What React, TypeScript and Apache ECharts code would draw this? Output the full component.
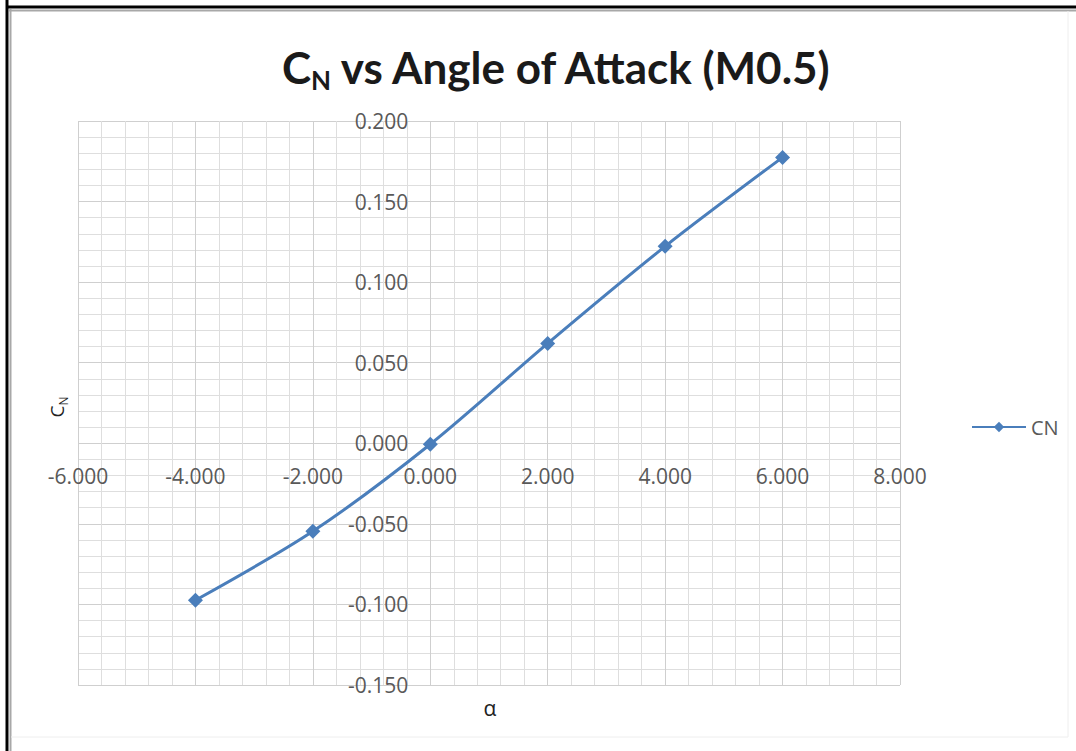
import React, { useEffect, useRef } from "react";
import * as echarts from "echarts";

const alpha = [-4, -2, 0, 2, 4, 6];
const cn = [-0.0974, -0.0546, -0.0006, 0.062, 0.1222, 0.1774];
const seriesName = "CN";
const xTicks = { min: -6, max: 8, interval: 2 };
const yTicks = { min: -0.15, max: 0.2, interval: 0.05 };

const W = 1076;
const H = 751;
const gridBox = { left: 78, right: 176, top: 121, bottom: 66 };

export default function App() {
  const ref = useRef<HTMLDivElement>(null);
  useEffect(() => {
    if (!ref.current) return;
    const chart = echarts.init(ref.current, undefined, { renderer: "svg" });
    const labelStyle = {
      color: "#595959",
      fontFamily: "Open Sans",
      fontSize: 21,
    };
    const plotW = W - gridBox.left - gridBox.right;
    const plotH = H - gridBox.top - gridBox.bottom;
    // axes cross at zero: shift axes inward from the grid edges
    const yAxisOffset = -((0 - xTicks.min) / (xTicks.max - xTicks.min)) * plotW;
    const xAxisOffset = -((0 - yTicks.min) / (yTicks.max - yTicks.min)) * plotH;
    const data = alpha.map((a, i) => [a, cn[i]]);
    chart.setOption({
      animation: false,
      backgroundColor: "#ffffff",
      title: {
        text: "{a|C}{b|N}{a| vs Angle of Attack (M0.5)}",
        left: 277,
        top: 36,
        textStyle: {
          rich: {
            a: { fontFamily: "Lato", fontWeight: "bold", fontSize: 44, color: "#1a1a1a", lineHeight: 52 },
            b: { fontFamily: "Lato", fontWeight: "bold", fontSize: 26, color: "#1a1a1a", lineHeight: 34, verticalAlign: "bottom" },
          },
        },
      },
      legend: {
        data: [seriesName],
        left: 966,
        top: 412,
        itemWidth: 54,
        itemHeight: 13,
        itemGap: 4,
        textStyle: { ...labelStyle, fontSize: 20, padding: [0, 0, 0, 0] },
      },
      grid: { ...gridBox, outerBoundsMode: "none", containLabel: false },
      xAxis: {
        type: "value",
        position: "bottom",
        offset: xAxisOffset,
        min: xTicks.min,
        max: xTicks.max,
        interval: xTicks.interval,
        axisLine: { show: false, onZero: false },
        axisTick: { show: false },
        axisLabel: {
          ...labelStyle,
          margin: 22,
          formatter: (v: number) => v.toFixed(3),
        },
        splitLine: { show: true, lineStyle: { color: "#cfcfcf", width: 1 } },
        minorTick: { show: false, splitNumber: 5 },
        minorSplitLine: { show: true, lineStyle: { color: "#dedede", width: 1 } },
      },
      yAxis: {
        type: "value",
        position: "left",
        offset: yAxisOffset,
        min: yTicks.min,
        max: yTicks.max,
        interval: yTicks.interval,
        axisLine: { show: false, onZero: false },
        axisTick: { show: false },
        axisLabel: {
          ...labelStyle,
          margin: 22,
          formatter: (v: number) => v.toFixed(3),
        },
        splitLine: { show: true, lineStyle: { color: "#cfcfcf", width: 1 } },
        minorTick: { show: false, splitNumber: 5 },
        minorSplitLine: { show: true, lineStyle: { color: "#dedede", width: 1 } },
      },
      series: [
        {
          name: seriesName,
          type: "line",
          data,
          smooth: 0.3,
          symbol: "diamond",
          symbolSize: 15,
          lineStyle: { color: "#4a7ebb", width: 3 },
          itemStyle: { color: "#4a7ebb" },
        },
      ],
      graphic: [
        { type: "line", shape: { x1: 7, y1: 0, x2: 7, y2: 751 }, style: { stroke: "#000", lineWidth: 3 } },
        { type: "line", shape: { x1: 6, y1: 7, x2: 1076, y2: 7 }, style: { stroke: "#000", lineWidth: 3 } },
        { type: "line", shape: { x1: 10.5, y1: 9, x2: 10.5, y2: 751 }, style: { stroke: "#a8a8a8", lineWidth: 2 } },
        { type: "line", shape: { x1: 9, y1: 10.5, x2: 1076, y2: 10.5 }, style: { stroke: "#a8a8a8", lineWidth: 2 } },
        { type: "line", shape: { x1: 1068, y1: 11, x2: 1068, y2: 737 }, style: { stroke: "#eeeeee", lineWidth: 1 } },
        { type: "line", shape: { x1: 11, y1: 737, x2: 1068, y2: 737 }, style: { stroke: "#eeeeee", lineWidth: 1 } },
        {
          type: "text",
          x: 57,
          y: 407,
          rotation: Math.PI / 2,
          style: {
            text: "{a|C}{b|N}",
            align: "center",
            verticalAlign: "middle",
            rich: {
              a: { fontFamily: "Open Sans", fontSize: 19, fill: "#222", lineHeight: 24 },
              b: { fontFamily: "Open Sans", fontSize: 12, fill: "#222", lineHeight: 16, verticalAlign: "bottom" },
            },
          },
        },
        {
          type: "text",
          x: 490,
          y: 708,
          style: {
            text: "α",
            align: "center",
            verticalAlign: "middle",
            fontFamily: "Open Sans",
            fontSize: 21,
            fill: "#222",
          },
        },
      ],
    });
    return () => chart.dispose();
  }, []);
  return (
    <div
      ref={ref}
      style={{ position: "absolute", left: 0, top: 0, width: W, height: H, background: "#fff" }}
    />
  );
}
